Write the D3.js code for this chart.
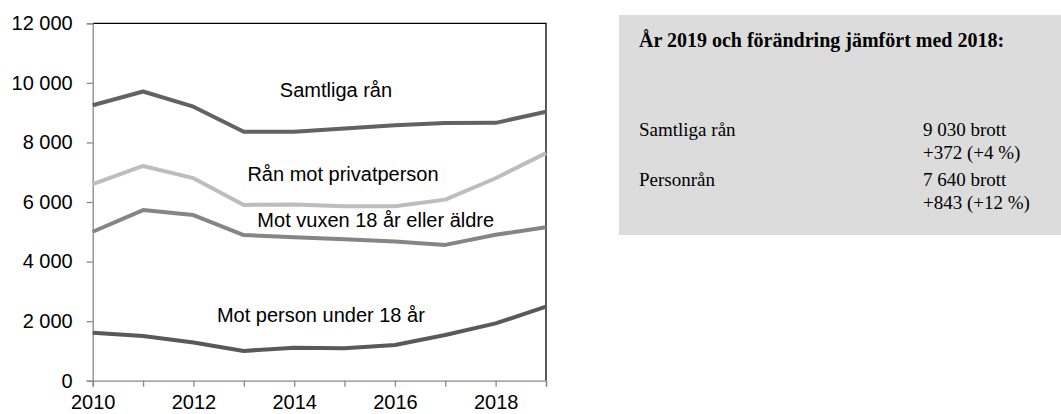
<!DOCTYPE html>
<html>
<head>
<meta charset="utf-8">
<script src="https://cdn.jsdelivr.net/npm/d3@7"></script>
<style>
  html, body { margin: 0; padding: 0; background: #fff; }
  svg { display: block; }
</style>
</head>
<body>
<svg id="chart" width="1061" height="414"></svg>
<script>
// Rån i Sverige 2010–2019, antal anmälda brott
const years = [2010, 2011, 2012, 2013, 2014, 2015, 2016, 2017, 2018, 2019];
const samtligaRan   = [9250, 9710, 9200, 8360, 8360, 8470, 8580, 8650, 8658, 9030];
const privatperson  = [6600, 7210, 6800, 5900, 5920, 5860, 5860, 6080, 6797, 7640];
const vuxen         = [5000, 5730, 5560, 4890, 4820, 4750, 4670, 4560, 4900, 5150];
const under18       = [1610, 1500, 1280, 1000, 1110, 1090, 1200, 1535, 1925, 2485];

const yTicks = [0, 2000, 4000, 6000, 8000, 10000, 12000];
const xTickLabels = [2010, 2012, 2014, 2016, 2018];

// Series labels placed in data coordinates (year, value at baseline)
const series = [
  { name: "Samtliga rån",               values: samtligaRan,  color: "#626262", label: [2014.83, 9530] },
  { name: "Rån mot privatperson",        values: privatperson, color: "#bdbdbd", label: [2014.97, 6690] },
  { name: "Mot vuxen 18 år eller äldre", values: vuxen,        color: "#858585", label: [2015.62, 5170] },
  { name: "Mot person under 18 år",      values: under18,      color: "#595959", label: [2014.53, 1980] }
];

// Summary panel
const panelTitle = "År 2019 och förändring jämfört med 2018:";
const panelRows = [
  { name: "Samtliga rån", total: "9 030 brott", change: "+372 (+4 %)" },
  { name: "Personrån",    total: "7 640 brott", change: "+843 (+12 %)" }
];

const svg = d3.select("#chart");
const plot = { left: 92.7, right: 546, top: 23.3, bottom: 380.7 };

const x = d3.scaleLinear().domain([2010, 2019]).range([plot.left, plot.right]);
const y = d3.scaleLinear().domain([0, 12000]).range([plot.bottom, plot.top]);

const fmt = v => d3.format(",")(v).replace(/,/g, " ");
const sans = "'Liberation Sans', Arial, sans-serif";
const serif = "'Liberation Serif', 'Times New Roman', serif";

// Frame: black top and right edges
svg.append("path")
  .attr("d", `M${plot.left},${plot.top}H${plot.right}V${plot.bottom}`)
  .attr("fill", "none").attr("stroke", "#000").attr("stroke-width", 1.3);

// Y axis
const yAxis = svg.append("g")
  .attr("transform", `translate(${plot.left},0)`)
  .call(d3.axisLeft(y).tickValues(yTicks).tickSize(6).tickPadding(14).tickFormat(fmt));
yAxis.select(".domain").attr("stroke", "#888").attr("stroke-width", 1.3);
yAxis.selectAll(".tick line").attr("stroke", "#888").attr("stroke-width", 1.3);
yAxis.selectAll(".tick text")
  .attr("font-family", sans).attr("font-size", 20).attr("fill", "#000");

// X axis: ticks every year, labels every other year
const xAxis = svg.append("g")
  .attr("transform", `translate(0,${plot.bottom})`)
  .call(d3.axisBottom(x).tickValues(years).tickSize(6).tickPadding(8)
    .tickFormat(d => xTickLabels.includes(d) ? String(d) : ""));
xAxis.select(".domain").attr("stroke", "#888").attr("stroke-width", 1.3);
xAxis.selectAll(".tick line").attr("stroke", "#888").attr("stroke-width", 1.3);
xAxis.selectAll(".tick text")
  .attr("font-family", sans).attr("font-size", 20).attr("fill", "#000");

// Lines
const line = d3.line()
  .x((d, i) => x(years[i]))
  .y(d => y(d));

svg.append("g").selectAll("path")
  .data(series)
  .join("path")
  .attr("d", s => line(s.values))
  .attr("fill", "none")
  .attr("stroke", s => s.color)
  .attr("stroke-width", 4)
  .attr("stroke-linejoin", "round");

// Series labels
svg.append("g").selectAll("text")
  .data(series)
  .join("text")
  .attr("x", s => x(s.label[0]))
  .attr("y", s => y(s.label[1]))
  .attr("text-anchor", "middle")
  .attr("font-family", sans)
  .attr("font-size", 20)
  .attr("fill", "#000")
  .text(s => s.name);

// Summary panel
const panel = svg.append("g");
panel.append("rect")
  .attr("x", 619).attr("y", 15).attr("width", 442).attr("height", 220)
  .attr("fill", "#dcdcdc");
panel.append("text")
  .attr("x", 639).attr("y", 47)
  .attr("font-family", serif).attr("font-size", 20).attr("font-weight", "bold")
  .attr("fill", "#000")
  .text(panelTitle);

const rows = panel.selectAll("g.row")
  .data(panelRows)
  .join("g")
  .attr("class", "row")
  .attr("transform", (d, i) => `translate(0,${136 + i * 50})`);
rows.append("text")
  .attr("x", 639).attr("y", 0)
  .attr("font-family", serif).attr("font-size", 19).attr("fill", "#000")
  .text(d => d.name);
rows.append("text")
  .attr("x", 923).attr("y", 0)
  .attr("font-family", serif).attr("font-size", 19).attr("fill", "#000")
  .text(d => d.total);
rows.append("text")
  .attr("x", 923).attr("y", 23)
  .attr("font-family", serif).attr("font-size", 19).attr("fill", "#000")
  .text(d => d.change);
</script>
</body>
</html>
